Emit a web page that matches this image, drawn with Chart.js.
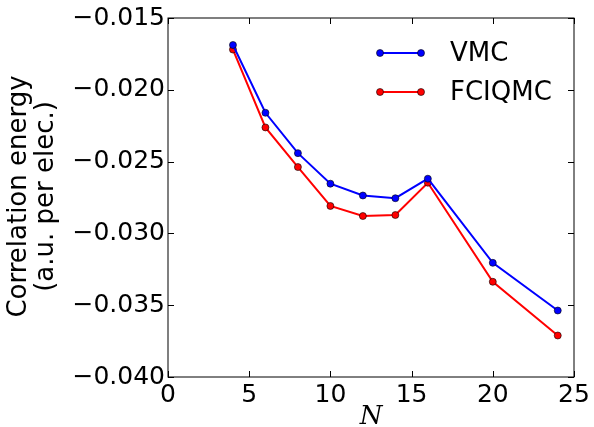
<!DOCTYPE html>
<html>
<head>
<meta charset="utf-8">
<script src="https://cdn.jsdelivr.net/npm/chart.js@4.4.1/dist/chart.umd.min.js"></script>
<style>
  html, body { margin: 0; padding: 0; background: #fff; }
  #wrap { width: 594px; height: 427px; }
</style>
</head>
<body>
<div id="wrap"><canvas id="chart" width="594" height="427"></canvas></div>
<script>
// ===== DATOS =====
const sizesN = [4, 6, 8, 10, 12, 14, 16, 20, 24];
const vmcEnergy = [-0.01688, -0.02160, -0.02441, -0.02654, -0.02736, -0.02755, -0.02619, -0.03205, -0.03537];
const fciqmcEnergy = [-0.01720, -0.02262, -0.02538, -0.02809, -0.02879, -0.02872, -0.02647, -0.03337, -0.03711];
const xTicks = [0, 5, 10, 15, 20, 25];
const yTicks = [-0.040, -0.035, -0.030, -0.025, -0.020, -0.015];

const FONT = 'DejaVu Sans';

function toPoints(xs, ys) {
    return xs.map((x, i) => ({ x, y: ys[i] }));
}

// ===== PLUGIN: marco, ticks hacia dentro, etiquetas y leyenda =====
const decorPlugin = {
    id: 'decor',
    afterDraw(chart) {
        const { ctx, chartArea: a, scales } = chart;
        const tl = 6;
        ctx.save();
        ctx.strokeStyle = '#000';
        ctx.lineWidth = 1;
        ctx.strokeRect(a.left, a.top, a.right - a.left, a.bottom - a.top);

        ctx.beginPath();
        xTicks.forEach(v => {
            const px = Math.round(scales.x.getPixelForValue(v)) + 0.5;
            ctx.moveTo(px, a.bottom); ctx.lineTo(px, a.bottom - tl);
            ctx.moveTo(px, a.top); ctx.lineTo(px, a.top + tl);
        });
        yTicks.forEach(v => {
            const py = Math.round(scales.y.getPixelForValue(v)) + 0.5;
            ctx.moveTo(a.left, py); ctx.lineTo(a.left + tl, py);
            ctx.moveTo(a.right, py); ctx.lineTo(a.right - tl, py);
        });
        ctx.stroke();

        // etiqueta eje Y (dos líneas)
        ctx.fillStyle = '#000';
        ctx.font = `26px "${FONT}"`;
        ctx.textAlign = 'center';
        ctx.textBaseline = 'middle';
        ctx.translate(32.5, (a.top + a.bottom) / 2 - 1);
        ctx.rotate(-Math.PI / 2);
        ctx.fillText('Correlation energy', 0, -13.5);
        ctx.fillText('(a.u. per elec.)', 0, 13.5);
        ctx.restore();

        // etiqueta eje X
        ctx.save();
        ctx.fillStyle = '#000';
        ctx.font = `italic 26px "DejaVu Serif"`;
        ctx.textAlign = 'center';
        ctx.textBaseline = 'alphabetic';
        ctx.fillText('N', (a.left + a.right) / 2, 424);
        ctx.restore();

        // leyenda
        ctx.save();
        chart.data.datasets.forEach((ds, i) => {
            const y = 53 + i * 39;
            const x0 = 380, x1 = 421;
            ctx.strokeStyle = ds.borderColor;
            ctx.lineWidth = 2;
            ctx.beginPath(); ctx.moveTo(x0, y); ctx.lineTo(x1, y); ctx.stroke();
            [x0, x1].forEach(x => {
                ctx.beginPath();
                ctx.arc(x, y, 3.5, 0, Math.PI * 2);
                ctx.fillStyle = ds.pointBackgroundColor;
                ctx.fill();
                ctx.lineWidth = 0.6;
                ctx.strokeStyle = '#000';
                ctx.stroke();
            });
            ctx.fillStyle = '#000';
            ctx.font = `26px "${FONT}"`;
            ctx.textAlign = 'left';
            ctx.textBaseline = 'middle';
            ctx.fillText(ds.label, 450, y + 1);
        });
        ctx.restore();
    }
};

function dataset(label, ys, color) {
    return {
        label,
        data: toPoints(sizesN, ys),
        borderColor: color,
        backgroundColor: color,
        pointBackgroundColor: color,
        pointBorderColor: '#000',
        pointBorderWidth: 0.6,
        pointRadius: 3.5,
        borderWidth: 2,
        tension: 0,
    };
}

new Chart(document.getElementById('chart').getContext('2d'), {
    type: 'line',
    data: {
        datasets: [
            dataset('VMC', vmcEnergy, '#0000ff'),
            dataset('FCIQMC', fciqmcEnergy, '#ff0000'),
        ]
    },
    options: {
        responsive: false,
        animation: false,
        layout: { padding: { top: 18, right: 20, left: 0, bottom: 0 } },
        plugins: { legend: { display: false }, tooltip: { enabled: false } },
        scales: {
            x: {
                type: 'linear',
                min: 0, max: 25,
                afterBuildTicks: s => { s.ticks = xTicks.map(v => ({ value: v })); },
                afterFit: s => { s.height = 50; s.paddingLeft = 0; s.paddingRight = 0; },
                grid: { display: false, drawTicks: false },
                border: { display: false },
                ticks: { color: '#000', font: { family: FONT, size: 25 }, padding: 3, maxRotation: 0 }
            },
            y: {
                type: 'linear',
                min: -0.040, max: -0.015,
                afterBuildTicks: s => { s.ticks = yTicks.map(v => ({ value: v })); },
                afterFit: s => { s.width = 168; s.paddingTop = 0; s.paddingBottom = 0; },
                grid: { display: false, drawTicks: false },
                border: { display: false },
                ticks: {
                    color: '#000', font: { family: FONT, size: 25 }, padding: 3,
                    callback: v => v.toFixed(3).replace('-', '\u2212')
                }
            }
        }
    },
    plugins: [decorPlugin]
});
</script>
</body>
</html>
